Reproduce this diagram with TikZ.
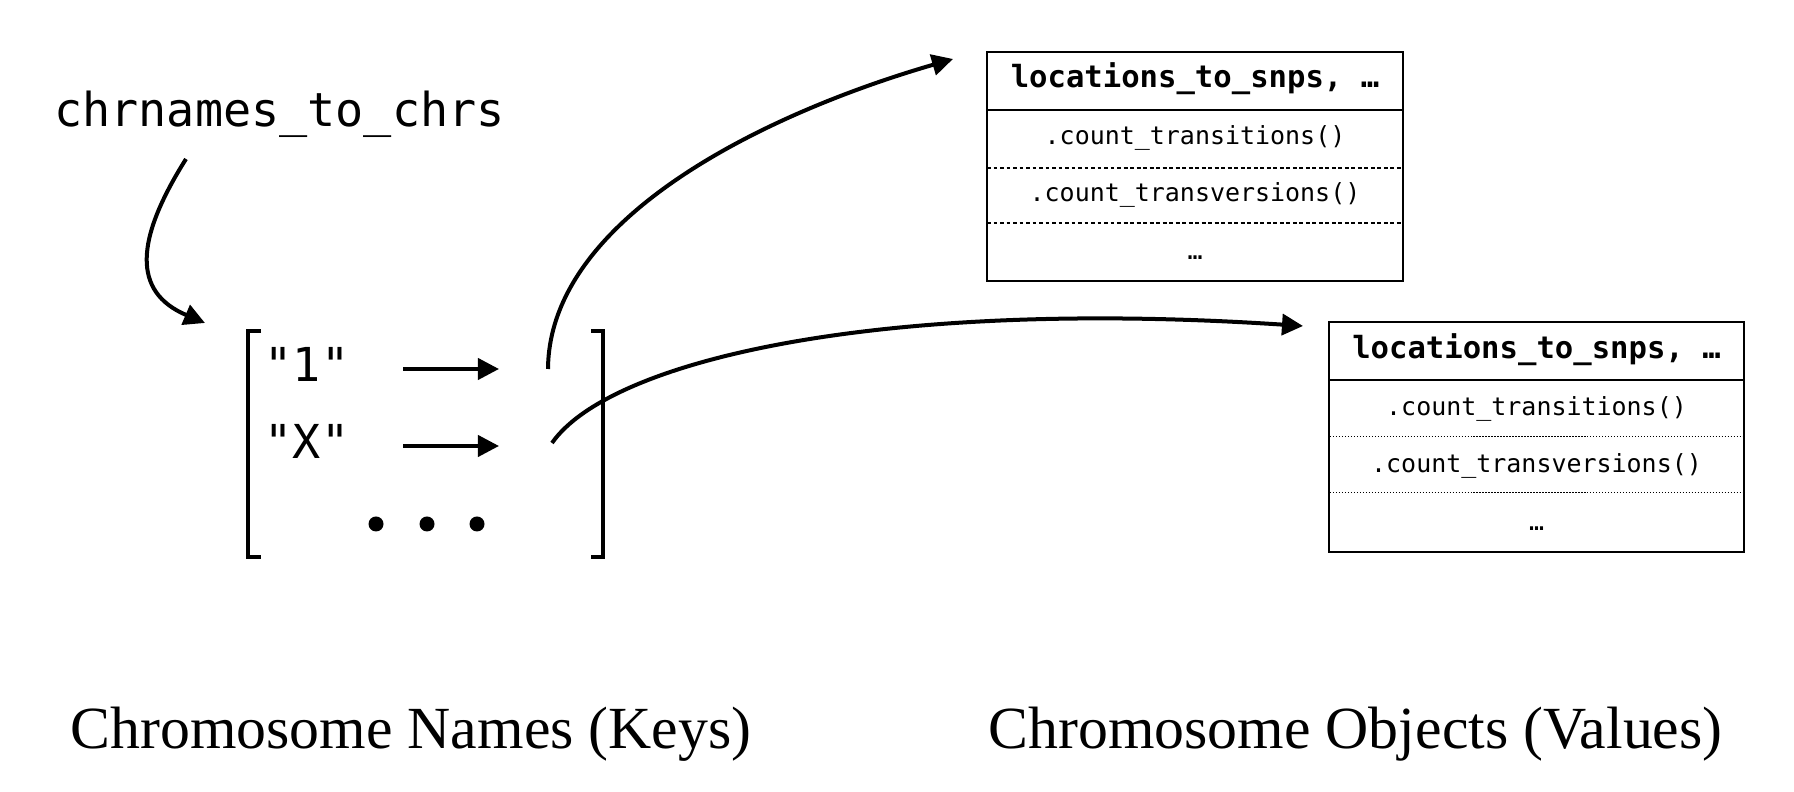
\documentclass[tikz,border=0pt]{standalone}
\usepackage{fontspec}
\newfontfamily\codefont{DejaVu Sans Mono}
\newfontfamily\capfont{Liberation Serif}
\usetikzlibrary{arrows.meta}
\tikzset{
  conn/.style={line width=0.04cm, -{Triangle[length=0.21cm,width=0.21cm]}},
  bracketline/.style={line width=0.04cm, line cap=butt, line join=miter},
  codelabel/.style={font=\codefont\fontsize{13.3pt}{16pt}\selectfont, inner sep=0, anchor=base},
  headtext/.style={font=\codefont\bfseries\fontsize{8.7pt}{10pt}\selectfont, inner sep=0, anchor=base},
  celltext/.style={font=\codefont\fontsize{7.1pt}{9pt}\selectfont, inner sep=0, anchor=base},
  objbox/.style={draw, line width=0.02cm, minimum width=4.15cm, minimum height=2.29cm, inner sep=0},
  caption/.style={font=\capfont\fontsize{17pt}{20pt}\selectfont, inner sep=0, anchor=base west},
  solidsep/.style={line width=0.02cm},
  sepA/.style={line width=0.017cm, dash pattern=on 1.1pt off 0.75pt},
  sepB/.style={line width=0.01cm, dash pattern=on 0.4pt off 0.45pt},
  keydot/.style={fill=black, draw=none},
}
\begin{document}
\begin{tikzpicture}[x=0.01cm, y=-0.01cm]
\useasboundingbox (0,0) rectangle (1794,792);

% title
\node[codelabel] (title) at (279.5,127) {chrnames\_to\_chrs};
\coordinate (ts) at (186,159);
\coordinate (te) at (205,323);
\draw[conn] (ts) .. controls (135,240) and (132,292) .. (te);

% brackets
\draw[bracketline] (261,331) -- (248,331) -- (248,557) -- (261,557);
\draw[bracketline] (591,331) -- (603,331) -- (603,557) -- (591,557);

% keys
\node[codelabel] (k1) at (307,382) {"1"};
\node[codelabel] (kx) at (307,459) {"X"};
\coordinate (k1s) at (403,369);
\coordinate (k1e) at (499,369);
\coordinate (kxs) at (403,446);
\coordinate (kxe) at (499,446);
\draw[conn] (k1s) -- (k1e);
\draw[conn] (kxs) -- (kxe);
\fill[keydot] (376,524) circle (7.5);
\fill[keydot] (427,524) circle (7.5);
\fill[keydot] (477,524) circle (7.5);

% value boxes
\node[objbox] (v1) at (1195,166.5) {};
\draw[solidsep] (987,110) -- (1403,110);
\draw[sepA] (987,168) -- (1403,168);
\draw[sepA] (987,223) -- (1403,223);
\node[headtext] (v1h) at (1195,88) {locations\_to\_snps, …};
\node[celltext] (v1a) at (1195,145) {.count\_transitions()};
\node[celltext] (v1b) at (1195,201.5) {.count\_transversions()};
\node[celltext] (v1c) at (1195,260) {…};

\node[objbox] (v2) at (1536.5,437) {};
\draw[solidsep] (1330,380) -- (1743,380);
\draw[sepB] (1330,437) -- (1743,437);
\draw[sepB] (1330,493) -- (1743,493);
\node[headtext] (v2h) at (1536.5,359) {locations\_to\_snps, …};
\node[celltext] (v2a) at (1536.5,416) {.count\_transitions()};
\node[celltext] (v2b) at (1536.5,472.5) {.count\_transversions()};
\node[celltext] (v2c) at (1536.5,531) {…};

% long connectors
\coordinate (c1s) at (548,369);
\coordinate (c1e) at (953,59);
\coordinate (c2s) at (552,443);
\coordinate (c2e) at (1303,326);
\draw[conn] (c1s) .. controls (549,220) and (760,115) .. (c1e);
\draw[conn] (c2s) .. controls (610,360) and (880,298) .. (c2e);

% captions
\node[caption] (ckeys) at (70,749) {Chromosome Names (Keys)};
\node[caption] (cvals) at (988,749) {Chromosome Objects (Values)};
\end{tikzpicture}
\end{document}
